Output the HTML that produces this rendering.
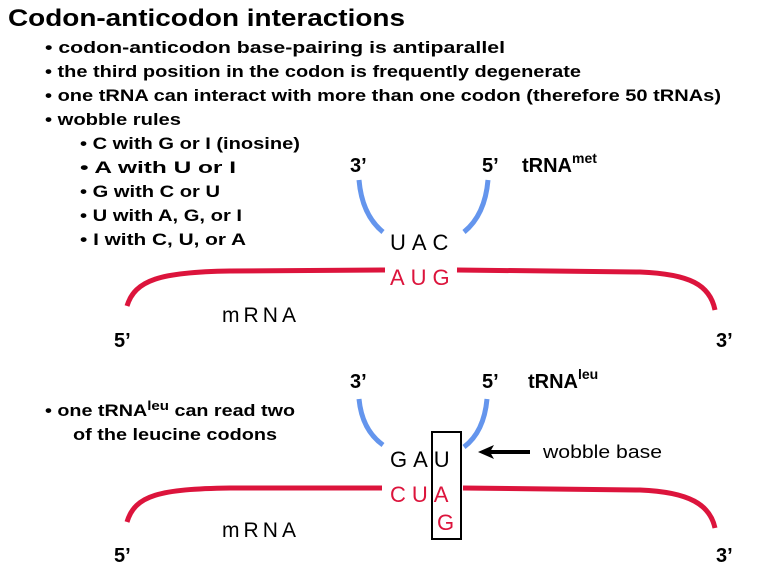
<!DOCTYPE html>
<html><head><meta charset="utf-8"><style>
html,body{margin:0;padding:0;background:#fff;}
svg{display:block;}
text{font-family:"Liberation Sans",Arial,sans-serif;}
.b{font-weight:bold;font-size:17px;fill:#000;}
.p{font-size:20px;font-weight:bold;fill:#000;}
</style></head><body>
<svg width="762" height="580" viewBox="0 0 762 580" xmlns="http://www.w3.org/2000/svg">
<rect width="762" height="580" fill="#fff"/>
<text x="8" y="26" font-size="24" font-weight="bold" textLength="397" lengthAdjust="spacingAndGlyphs">Codon-anticodon interactions</text>
<text class="b" x="45" y="53" textLength="460" lengthAdjust="spacingAndGlyphs">• codon-anticodon base-pairing is antiparallel</text>
<text class="b" x="45" y="77" textLength="536" lengthAdjust="spacingAndGlyphs">• the third position in the codon is frequently degenerate</text>
<text class="b" x="45" y="101" textLength="676" lengthAdjust="spacingAndGlyphs">• one tRNA can interact with more than one codon (therefore 50 tRNAs)</text>
<text class="b" x="45" y="125" textLength="136" lengthAdjust="spacingAndGlyphs">• wobble rules</text>
<text class="b" x="80" y="149" textLength="220" lengthAdjust="spacingAndGlyphs">• C with G or I (inosine)</text>
<text class="b" x="80" y="173" textLength="156" lengthAdjust="spacingAndGlyphs">• A with U or I</text>
<text class="b" x="80" y="197" textLength="140" lengthAdjust="spacingAndGlyphs">• G with C or U</text>
<text class="b" x="80" y="221" textLength="162" lengthAdjust="spacingAndGlyphs">• U with A, G, or I</text>
<text class="b" x="80" y="245" textLength="166" lengthAdjust="spacingAndGlyphs">•  I with C, U, or A</text>

<!-- top tRNA -->
<text class="p" x="350" y="172">3’</text>
<text class="p" x="482" y="172">5’</text>
<text x="522" y="172" font-size="20" font-weight="bold">tRNA<tspan font-size="14" dy="-9">met</tspan></text>
<path d="M359 180 Q362 215 383 232" stroke="#6495ed" stroke-width="5" fill="none"/>
<path d="M488 180 Q485 215 464 232" stroke="#6495ed" stroke-width="5" fill="none"/>
<text x="390" y="250" font-size="22" letter-spacing="6">UAC</text>
<path d="M127 306 C135 280 160 272 230 271 L385 270" stroke="#dc143c" stroke-width="5" fill="none"/>
<path d="M457 270 L640 272 C690 274 710 285 715 310" stroke="#dc143c" stroke-width="5" fill="none"/>
<text x="390" y="285" font-size="22" letter-spacing="6" fill="#dc143c">AUG</text>
<text x="222" y="322" font-size="21" textLength="74" lengthAdjust="spacing">mRNA</text>
<text class="p" x="114" y="347">5’</text>
<text class="p" x="716" y="347">3’</text>

<!-- bottom tRNA -->
<text class="p" x="350" y="388">3’</text>
<text class="p" x="482" y="388">5’</text>
<text x="528" y="388" font-size="20" font-weight="bold">tRNA<tspan font-size="14" dy="-9">leu</tspan></text>
<text class="b" x="45" y="416" textLength="250" lengthAdjust="spacingAndGlyphs">• one tRNA<tspan font-size="13" dy="-6">leu</tspan><tspan dy="6"> can read two</tspan></text>
<text class="b" x="73" y="440" textLength="204" lengthAdjust="spacingAndGlyphs">of the leucine codons</text>
<path d="M359 399 Q362 430 383 445" stroke="#6495ed" stroke-width="5" fill="none"/>
<path d="M487 399 Q484 432 464 447" stroke="#6495ed" stroke-width="5" fill="none"/>
<text x="390" y="467" font-size="22" letter-spacing="6">GAU</text>
<path d="M127 522 C135 495 160 489 230 488 L382 488" stroke="#dc143c" stroke-width="5" fill="none"/>
<path d="M463 488 L640 490 C690 492 710 505 715 528" stroke="#dc143c" stroke-width="5" fill="none"/>
<text x="390" y="502" font-size="22" letter-spacing="6" fill="#dc143c">CUA</text>
<text x="437" y="530" font-size="22" fill="#dc143c">G</text>
<rect x="432" y="432" width="29" height="107" fill="none" stroke="#000" stroke-width="2"/>
<line x1="530" y1="452" x2="488" y2="452" stroke="#000" stroke-width="4"/>
<path d="M478 452 L494 445 L490 452 L494 459 Z" fill="#000"/>
<text x="543" y="458" font-size="18" textLength="119" lengthAdjust="spacingAndGlyphs">wobble base</text>
<text x="222" y="537" font-size="21" textLength="74" lengthAdjust="spacing">mRNA</text>
<text class="p" x="114" y="562">5’</text>
<text class="p" x="716" y="562">3’</text>
</svg>
</body></html>
